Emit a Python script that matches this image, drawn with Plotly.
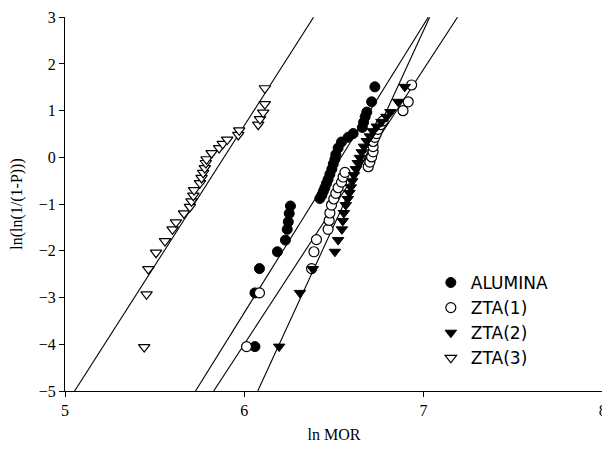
import plotly.graph_objects as go

# ---- data (ln MOR vs ln(ln(1/(1-P)))) ----
alumina_x = [6.060, 6.060, 6.085, 6.185, 6.230, 6.240, 6.246, 6.251, 6.258, 6.422,
             6.433, 6.441, 6.450, 6.459, 6.468, 6.478, 6.489, 6.497, 6.506, 6.511,
             6.524, 6.543, 6.580, 6.608, 6.659, 6.666, 6.675, 6.684, 6.711, 6.729]
alumina_y = [-4.05, -2.90, -2.38, -2.02, -1.77, -1.54, -1.38, -1.20, -1.04, -0.88,
             -0.81, -0.73, -0.65, -0.56, -0.47, -0.36, -0.25, -0.14, -0.04, 0.06,
             0.20, 0.33, 0.43, 0.51, 0.64, 0.75, 0.87, 0.97, 1.19, 1.51]

zta1_x = [6.013, 6.085, 6.376, 6.389, 6.403, 6.468, 6.474, 6.478, 6.487, 6.500,
          6.511, 6.524, 6.543, 6.552, 6.562, 6.692, 6.701, 6.711, 6.719, 6.719,
          6.719, 6.729, 6.738, 6.747, 6.762, 6.775, 6.886, 6.915, 6.934]
zta1_y = [-4.05, -2.90, -2.38, -2.02, -1.76, -1.54, -1.35, -1.19, -1.02, -0.89,
          -0.77, -0.65, -0.53, -0.42, -0.32, -0.20, -0.10, 0.01, 0.12, 0.23,
          0.34, 0.43, 0.51, 0.60, 0.70, 0.78, 1.00, 1.19, 1.55]

zta2_x = [6.195, 6.311, 6.383, 6.506, 6.524, 6.545, 6.550, 6.556, 6.567, 6.578,
          6.587, 6.595, 6.603, 6.612, 6.623, 6.634, 6.645, 6.656, 6.668, 6.684,
          6.701, 6.718, 6.740, 6.766, 6.794, 6.816, 6.859, 6.896]
zta2_y = [-4.05, -2.90, -2.39, -2.02, -1.77, -1.54, -1.36, -1.19, -1.02, -0.89,
          -0.76, -0.64, -0.51, -0.38, -0.25, -0.12, -0.01, 0.11, 0.23, 0.35,
          0.45, 0.56, 0.66, 0.76, 0.87, 0.97, 1.19, 1.51]

zta3_x = [5.442, 5.455, 5.465, 5.508, 5.558, 5.600, 5.619, 5.664, 5.697, 5.706,
          5.716, 5.720, 5.753, 5.762, 5.771, 5.780, 5.786, 5.790, 5.818, 5.860,
          5.880, 5.905, 5.967, 5.972, 6.078, 6.088, 6.106, 6.115, 6.115]
zta3_y = [-4.06, -2.93, -2.39, -2.04, -1.79, -1.54, -1.39, -1.20, -1.06, -0.94,
          -0.82, -0.70, -0.55, -0.44, -0.33, -0.23, -0.12, -0.04, 0.09, 0.20,
          0.29, 0.38, 0.48, 0.58, 0.70, 0.82, 0.96, 1.14, 1.48]

# Weibull fit lines: y = slope * (x - x_intercept)
series_names = ["ALUMINA", "ZTA(1)", "ZTA(2)", "ZTA(3)"]
fit_slope = [6.16, 5.88, 8.34, 6.00]
fit_x0 = [6.540, 6.680, 6.675, 5.887]

x_range = [5, 8]
y_range = [-5, 3]
x_ticks = [5, 6, 7, 8]
y_ticks = [-5, -4, -3, -2, -1, 0, 1, 2, 3]

fig = go.Figure()

# fit lines
for m, x0 in zip(fit_slope, fit_x0):
    ys = [y_range[0], y_range[1]]
    xs = [x0 + yy / m for yy in ys]
    fig.add_trace(go.Scatter(x=xs, y=ys, mode="lines",
                             line=dict(color="black", width=1.1),
                             showlegend=False, hoverinfo="skip"))

styles = [
    dict(symbol="circle", color="black", line=dict(color="black", width=1), size=10),
    dict(symbol="circle", color="white", line=dict(color="black", width=1.2), size=10),
    dict(symbol="triangle-down", color="black", line=dict(color="black", width=1), size=10),
    dict(symbol="triangle-down", color="white", line=dict(color="black", width=1.2), size=10),
]
data = [(alumina_x, alumina_y), (zta1_x, zta1_y), (zta2_x, zta2_y), (zta3_x, zta3_y)]
for name, (xs, ys), st in zip(series_names, data, styles):
    fig.add_trace(go.Scatter(x=xs, y=ys, mode="markers", name=name, marker=st))

serif = "Liberation Serif"
# the page body has an 8px default margin, so the figure is 602x442
fig.update_layout(
    width=602, height=442,
    margin=dict(l=57, r=7, t=9, b=59),
    paper_bgcolor="white", plot_bgcolor="white",
    font=dict(family=serif, size=16, color="black"),
    showlegend=True,
    legend=dict(x=0.68, y=0.337, xanchor="left", yanchor="top",
                bgcolor="rgba(0,0,0,0)", borderwidth=0,
                font=dict(family="DejaVu Sans", size=17, color="black"),
                tracegroupgap=0, itemwidth=30),
)
fig.update_xaxes(range=[x_range[0], x_range[1] + 0.002], tickvals=x_ticks,
                 showgrid=False, zeroline=False, automargin=False,
                 showline=True, linecolor="black", linewidth=1.2,
                 ticks="outside", ticklen=5, tickcolor="black",
                 ticklabeloverflow="allow",
                 tickfont=dict(family=serif, size=16),
                 title=dict(text="ln MOR", font=dict(family=serif, size=16), standoff=10))
fig.update_yaxes(range=[y_range[0], y_range[1] + 0.005], tickvals=y_ticks,
                 showgrid=False, zeroline=False, automargin=False,
                 showline=True, linecolor="black", linewidth=1.2,
                 ticks="outside", ticklen=5, tickcolor="black",
                 tickfont=dict(family=serif, size=16),
                 title=dict(text="ln(ln(1/(1-P)))", font=dict(family=serif, size=16), standoff=12))

fig.write_html("out.html")
